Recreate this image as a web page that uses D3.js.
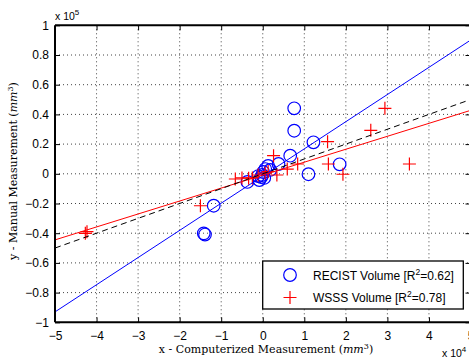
<!DOCTYPE html>
<html><head><meta charset="utf-8">
<script src="https://cdn.jsdelivr.net/npm/d3@7"></script>
<style>
html,body{margin:0;padding:0;background:#fff;}
svg{display:block;}
</style>
</head><body>
<svg id="c" width="469" height="362"></svg>
<script>
// ---- data (mm^3) ----
const recistX = [7570, 7570, 12200, 6610, 11000, 18500, 3800, -14200, -13900, -11800, -3700, -840, -360, -120, 120, 600, 1300, -1080, 360, 1800];
const recistY = [44100, 29000, 21200, 12200, -300, 6400, 6600, -40100, -40900, -21500, -5500, -4200, -2200, -800, 1200, 3200, 5300, -1500, -2800, 2600];
const wsssX = [-42300, -42700, -15000, -6600, -5000, -3400, 2600, 5900, 8400, 15600, 15800, 19300, 26000, 29400, 35300, -1100, 600, 1300, -2500, 3400];
const wsssY = [-39000, -40100, -21500, -3500, -2800, -3000, 12200, 3200, 6600, 21600, 6600, -300, 29300, 44100, 6600, -800, 500, 1500, -2800, -800];
const fitNames = ["recist", "wsss", "identity"];
const fitSlopes = [1.83, 0.872, 1.0];
const fitIntercepts = [-1500, -900, 0];
const xTicks = [-5, -4, -3, -2, -1, 0, 1, 2, 3, 4, 5];          // x 10^4
const yTicks = [-1, -0.8, -0.6, -0.4, -0.2, 0, 0.2, 0.4, 0.6, 0.8, 1]; // x 10^5
const legendLabels = ["RECIST Volume [R", "WSSS Volume [R"];
const legendR2 = ["0.62", "0.78"];

// ---- layout ----
const L = 55, R = 470.5, T = 25.3, B = 322.3;
const svg = d3.select("#c");
const x = d3.scaleLinear().domain([-50000, 50000]).range([L, R]);
const y = d3.scaleLinear().domain([-100000, 100000]).range([B, T]);
const sansFont = "'Liberation Sans', Arial, sans-serif";
const serifFont = "'DejaVu Serif', serif";

svg.append("defs").append("clipPath").attr("id", "clip")
  .append("rect").attr("x", L).attr("y", T).attr("width", R - L).attr("height", B - T);

// grid
const grid = svg.append("g");
grid.selectAll("line.gx").data(xTicks.slice(1, -1)).join("line")
  .attr("x1", d => x(d * 1e4)).attr("x2", d => x(d * 1e4))
  .attr("y1", T).attr("y2", B)
  .attr("stroke", "#444").attr("stroke-width", 1).attr("stroke-dasharray", "1,3");
grid.selectAll("line.gy").data(yTicks.slice(1, -1)).join("line")
  .attr("y1", d => y(d * 1e5)).attr("y2", d => y(d * 1e5))
  .attr("x1", L).attr("x2", R)
  .attr("stroke", "#444").attr("stroke-width", 1).attr("stroke-dasharray", "1,3");

const plot = svg.append("g").attr("clip-path", "url(#clip)");

// RECIST circles
plot.selectAll("circle.r").data(recistX.map((v, i) => [v, recistY[i]])).join("circle")
  .attr("cx", d => x(d[0])).attr("cy", d => y(d[1])).attr("r", 6.3)
  .attr("fill", "none").attr("stroke", "#0000ff").attr("stroke-width", 1.2);

// WSSS pluses
const ps = 6.5;
plot.selectAll("path.w").data(wsssX.map((v, i) => [v, wsssY[i]])).join("path")
  .attr("d", d => {
    const cx = x(d[0]), cy = y(d[1]);
    return `M${cx - ps},${cy}H${cx + ps}M${cx},${cy - ps}V${cy + ps}`;
  })
  .attr("fill", "none").attr("stroke", "#ff0000").attr("stroke-width", 1.2);

// fit lines
const fitStyle = {recist: ["#0000ff", null], wsss: ["#ff0000", null], identity: ["#000000", "6,4"]};
fitNames.forEach((n, i) => {
  const x0 = -50000, x1 = 50000;
  plot.append("line")
    .attr("x1", x(x0)).attr("y1", y(fitSlopes[i] * x0 + fitIntercepts[i]))
    .attr("x2", x(x1)).attr("y2", y(fitSlopes[i] * x1 + fitIntercepts[i]))
    .attr("stroke", fitStyle[n][0]).attr("stroke-width", 1)
    .attr("stroke-dasharray", fitStyle[n][1]);
});

// axes
const fmt = d => (d < 0 ? "\u2212" : "") + Math.abs(d);
const xAxisB = d3.axisBottom(x).tickValues(xTicks.map(d => d * 1e4))
  .tickSize(-5).tickPadding(9).tickFormat(d => fmt(d / 1e4));
const yAxisL = d3.axisLeft(y).tickValues(yTicks.map(d => d * 1e5))
  .tickSize(-5).tickPadding(6).tickFormat(d => fmt(+(d / 1e5).toFixed(1)));
const gx = svg.append("g").attr("transform", `translate(0,${B})`).call(xAxisB);
const gy = svg.append("g").attr("transform", `translate(${L},0)`).call(yAxisL);
const gxt = svg.append("g").attr("transform", `translate(0,${T})`)
  .call(d3.axisTop(x).tickValues(xTicks.map(d => d * 1e4)).tickSize(-5).tickFormat(""));
const gyr = svg.append("g").attr("transform", `translate(${R},0)`)
  .call(d3.axisRight(y).tickValues(yTicks.map(d => d * 1e5)).tickSize(-5).tickFormat(""));
[gx, gy, gxt, gyr].forEach(g => {
  g.select(".domain").attr("stroke", "#000").attr("stroke-width", 2);
  g.selectAll(".tick line").attr("stroke", "#000").attr("stroke-width", 1);
  g.selectAll("text").attr("font-family", sansFont).attr("font-size", 12).attr("fill", "#000");
});
gx.selectAll(".domain").attr("d", `M${L},0H${R}`);
gxt.selectAll(".domain").attr("d", `M${L},0H${R}`);
gy.selectAll(".domain").attr("d", `M0,${T}V${B}`);
gyr.selectAll(".domain").attr("d", `M0,${T}V${B}`);

// exponent labels
const e5 = svg.append("text").attr("x", 55).attr("y", 19.5)
  .attr("font-family", sansFont).attr("font-size", 10.5).text("x 10");
e5.append("tspan").attr("dy", -5).attr("font-size", 8).text("5");
const e4 = svg.append("text").attr("x", 442).attr("y", 357)
  .attr("font-family", sansFont).attr("font-size", 10.5).text("x 10");
e4.append("tspan").attr("dy", -5).attr("font-size", 8).text("4");

// axis titles
const xt = svg.append("text").attr("x", 266).attr("y", 353).attr("text-anchor", "middle")
  .attr("font-family", serifFont).attr("font-size", 11).text("x - Computerized Measurement (");
xt.append("tspan").attr("font-style", "italic").text("mm");
xt.append("tspan").attr("dy", -4).attr("font-size", 8).text("3");
xt.append("tspan").attr("dy", 4).text(")");

const yt = svg.append("text").attr("transform", "translate(17,171) rotate(-90)").attr("text-anchor", "middle")
  .attr("font-family", serifFont).attr("font-size", 11).text("y - Manual Measurement (");
yt.append("tspan").attr("font-style", "italic").text("mm");
yt.append("tspan").attr("dy", -4).attr("font-size", 8).text("3");
yt.append("tspan").attr("dy", 4).text(")");

// legend
const lg = svg.append("g");
lg.append("rect").attr("x", 262.7).attr("y", 261).attr("width", 200.6).attr("height", 48)
  .attr("fill", "#fff").attr("stroke", "#000").attr("stroke-width", 1.3);
const ly = [275, 297.5];
lg.append("circle").attr("cx", 290).attr("cy", ly[0]).attr("r", 6.3)
  .attr("fill", "none").attr("stroke", "#0000ff").attr("stroke-width", 1.2);
lg.append("path").attr("d", `M${290 - ps},${ly[1]}H${290 + ps}M290,${ly[1] - ps}V${ly[1] + ps}`)
  .attr("stroke", "#ff0000").attr("stroke-width", 1.2);
legendLabels.forEach((lab, i) => {
  const t = lg.append("text").attr("x", 313).attr("y", ly[i] + 4.5)
    .attr("font-family", sansFont).attr("font-size", 12).text(lab);
  t.append("tspan").attr("dy", -5).attr("font-size", 8.5).text("2");
  t.append("tspan").attr("dy", 5).text("=" + legendR2[i] + "]");
});
</script>
</body></html>
